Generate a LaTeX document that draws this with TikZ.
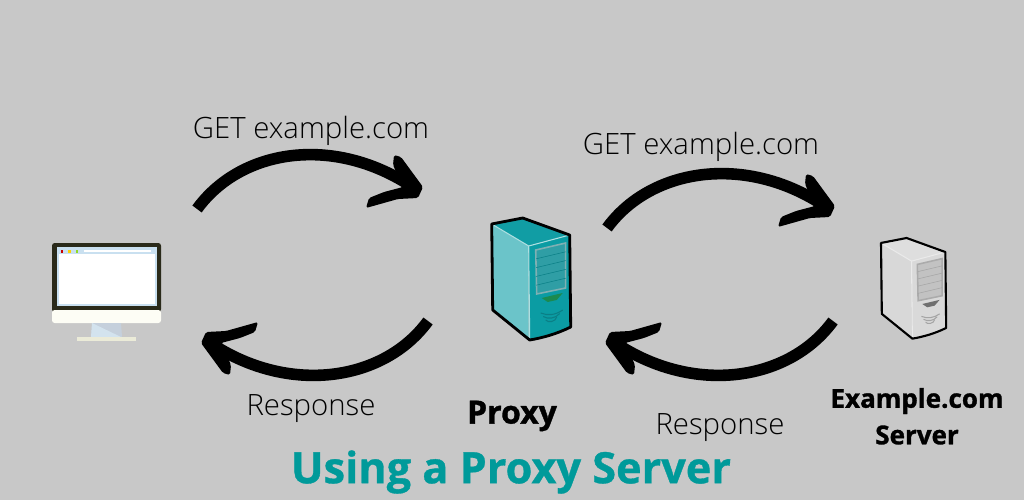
\documentclass[tikz,border=0pt]{standalone}
\usepackage{fontspec}
\setmainfont{Open Sans}
\newfontfamily\lightfont{Open Sans Light}
\newfontfamily\heavyfont[BoldFeatures={FakeBold=1.2}]{Open Sans}
\newfontfamily\titlefont[BoldFeatures={FakeBold=.8}]{Open Sans}
\usetikzlibrary{positioning}
\definecolor{bgc}{HTML}{C8C8C8}
\definecolor{titlec}{HTML}{009A9A}
\definecolor{framec}{HTML}{2A2A1A}
\definecolor{bezelc}{HTML}{C9E0F0}
\definecolor{chinc}{HTML}{FDFDF5}
\definecolor{standc}{HTML}{C5D0DC}
\definecolor{standl}{HTML}{D3E3EE}
\definecolor{basec}{HTML}{EBEBD8}
\tikzset{
	sweep/.style={line width=6.6pt,black},
	msg/.style={font=\lightfont\fontsize{16.7}{18}\selectfont,inner sep=0pt},
	tag/.style={font=\heavyfont\bfseries\fontsize{14.8}{18}\selectfont,inner sep=0pt},
	headtip/.pic={
		\fill[black,rounded corners=1pt] (-29,-33) -- (-22,-31) -- (0,-1) -- (-5,10) -- (-25,11) -- (-57,20) -- (-54,10) -- (-39,4) -- (-20,-1) -- (-30,-23) -- cycle;
	},
	tower/.pic={
		\fill[towerside] (0,6) -- (37,28) -- (37,122) -- (1,92) -- cycle;
		\fill[towertop] (0,6) -- (31,0) -- (78,17) -- (37,28) -- cycle;
		\fill[towerfront] (37,28) -- (78,17) -- (79,109) .. controls (65,116) and (50,120) .. (38,122) -- cycle;
		\draw[towerpanel,line width=.9pt,fill=towerscreen] (44,32) -- (74,25) -- (74,70) -- (45,76) -- cycle;
		\foreach \k in {1,2,3,4}
			\draw[towervent,line width=.3pt] (44.5,32+\k*8.8) -- (74,25+\k*8.8);
		\fill[towerslot] (50,80) -- (71,75) -- (65,82) -- (56,84) -- cycle;
		\foreach \k in {0,1,2}
			\draw[towervent,line width=.6pt] (49+\k*2.5,95+\k*3.5) .. controls (56,98+\k*3.5) and (64,97+\k*3.5) .. (71-\k*3,92+\k*3.5);
		\draw[towerside!55!white,line width=.6pt] (0,6) -- (37,28) -- (78,17);
		\draw[towerside!55!white,line width=.6pt] (37,28) -- (38,122);
		\draw[black,towerline,line join=round] (0,6) -- (31,0) -- (78,17) -- (79,109) .. controls (65,116) and (50,120) .. (38,122) -- (1,92) -- cycle;
	}
}
\begin{document}
\begin{tikzpicture}[x=0.02cm,y=-0.02cm]
	\fill[bgc] (0,0) rectangle (1024,500);
	\useasboundingbox (0,0) rectangle (1024,500);
	% monitor
	\fill[framec,rounded corners=1.5pt] (52,312) -- (52,243) -- (161,243) -- (161,312) -- cycle;
	\fill[bezelc] (57,247) rectangle (157,306);
	\fill[white] (59,254) rectangle (155,304);
	\fill[white] (84,250) rectangle (151,252.3);
	\fill[red!80!black] (60.5,250) rectangle (63,252.5);
	\fill[yellow!70!orange] (68,250) rectangle (70.5,252.5);
	\fill[green!40!yellow!70!gray] (75.8,250) rectangle (78.3,252.5);
	\fill[chinc,rounded corners=1.5pt] (52,310) -- (161,310) -- (161,323) -- (52,323) -- cycle;
	\fill[standc] (92,323) -- (121,323) -- (122,337) -- (91,337) -- cycle;
	\fill[standl] (92,323) -- (121,337) -- (91,337) -- cycle;
	\fill[basec] (77,337) rectangle (136,341);
	% towers
	\definecolor{towerside}{HTML}{6BC4C9}
	\definecolor{towertop}{HTML}{119DA4}
	\definecolor{towerfront}{HTML}{0B9CA3}
	\definecolor{towerscreen}{HTML}{2F9EA5}
	\definecolor{towerpanel}{HTML}{7FB0B3}
	\definecolor{towervent}{HTML}{0A7F86}
	\definecolor{towerslot}{HTML}{1B8A50}
	\tikzset{towerline/.style={line width=1.6pt}}
	\pic at (491.7,218) {tower};
	\definecolor{towerside}{HTML}{D8D8D8}
	\definecolor{towertop}{HTML}{DEDEDE}
	\definecolor{towerfront}{HTML}{D9D9D9}
	\definecolor{towerscreen}{HTML}{C2C2C2}
	\definecolor{towerpanel}{HTML}{ABABAB}
	\definecolor{towervent}{HTML}{A5A5A5}
	\definecolor{towerslot}{HTML}{707070}
	\tikzset{towerline/.style={line width=1.2pt}}
	\pic[scale=.825] at (881,238) {tower};
	% end points
	\coordinate (pcOut) at (197,209);
	\coordinate (proxyIn) at (408,184);
	\coordinate (proxyOut) at (607,228);
	\coordinate (serverIn) at (820,203);
	\coordinate (serverBack) at (833,321);
	\coordinate (proxyBack) at (620,346);
	\coordinate (proxyRet) at (428,321);
	\coordinate (pcIn) at (215,346);
	\coordinate (tipA) at (423,188);
	\coordinate (tipB) at (835,207);
	\coordinate (tipC) at (605,342);
	\coordinate (tipD) at (201,342);
	\draw[sweep] (pcOut) .. controls +(43,-59) and +(-78,-49) .. (proxyIn);
	\draw[sweep] (proxyOut) .. controls +(43,-59) and +(-78,-49) .. (serverIn);
	\draw[sweep] (serverBack) .. controls +(-43,59) and +(78,49) .. (proxyBack);
	\draw[sweep] (proxyRet) .. controls +(-43,59) and +(78,49) .. (pcIn);
	\pic at (tipA) {headtip};
	\pic at (tipB) {headtip};
	\pic[rotate=180] at (tipC) {headtip};
	\pic[rotate=180] at (tipD) {headtip};
	% labels
	\node[msg] (getA) at (311,131) {GET example.com};
	\node[msg] (getB) at (701,147) {GET example.com};
	\node[msg] (respA) at (311,409) {Response};
	\node[msg] (respB) at (720,428) {Response};
	\node[tag,font=\heavyfont\bfseries\fontsize{18.2}{18}\selectfont] (proxy) at (512,416) {Proxy};
	\node[tag] (exa) at (917,401) {Example.com};
	\node[tag] (srv) at (917,435) {Server};
	\node[inner sep=0pt,text=titlec,font=\titlefont\bfseries\fontsize{24.6}{30}\selectfont] (ttl) at (511,472) {Using a Proxy Server};
\end{tikzpicture}
\end{document}
